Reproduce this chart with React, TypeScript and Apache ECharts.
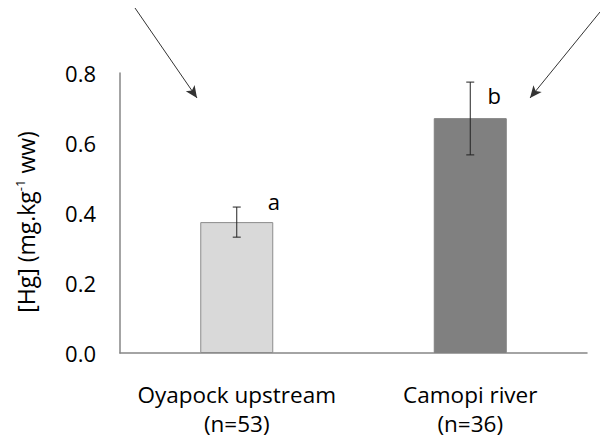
import React, { useEffect, useRef } from "react";
import * as echarts from "echarts";

const categories = ["Oyapock upstream\n(n=53)", "Camopi river\n(n=36)"];
const means = [0.374, 0.671];
const errLow = [0.331, 0.566];
const errHigh = [0.417, 0.774];
const letters = ["a", "b"];
const barColors = ["#d9d9d9", "#808080"];
const yTicks = { min: 0, max: 0.8, interval: 0.2 };

const FONT = "Open Sans";

export default function App() {
  const ref = useRef<HTMLDivElement>(null);
  useEffect(() => {
    if (!ref.current) return;
    const chart = echarts.init(ref.current, null, { renderer: "svg" });
    const option: any = {
      animation: false,
      backgroundColor: "#ffffff",
      grid: { left: 120, right: 13, top: 73, bottom: 92 },
      xAxis: {
        type: "category",
        data: categories,
        axisTick: { show: false },
        axisLine: { lineStyle: { color: "#868686", width: 1.5 } },
        axisLabel: {
          interval: 0,
          margin: 27,
          fontFamily: FONT,
          fontSize: 22.5,
          lineHeight: 29,
          color: "#000",
        },
      },
      yAxis: {
        type: "value",
        min: yTicks.min,
        max: yTicks.max,
        interval: yTicks.interval,
        splitLine: { show: false },
        axisTick: { show: false },
        axisLine: { show: true, lineStyle: { color: "#868686", width: 1.5 } },
        axisLabel: {
          margin: 24,
          fontFamily: FONT,
          fontSize: 22,
          color: "#000",
          formatter: (v: number) => v.toFixed(1),
        },
        name: "{a|[Hg] (mg.kg}{s|-1}{a| ww)}",
        nameLocation: "middle",
        nameRotate: 90,
        nameGap: 82,
        nameTextStyle: {
          padding: [0, 18, 0, 0],
          rich: {
            a: { fontFamily: FONT, fontSize: 23, color: "#000" },
            s: { fontFamily: FONT, fontSize: 13, color: "#000", verticalAlign: "top", padding: [0, 0, 12, 0] },
          },
        },
      },
      series: [
        {
          type: "bar",
          barWidth: 73,
          data: means.map((v, i) => ({
            value: v,
            itemStyle: { color: barColors[i], borderColor: i === 0 ? "#8c8c8c" : barColors[i], borderWidth: 1 },
            label: {
              show: true,
              position: "top",
              distance: i === 0 ? 10 : 12,
              offset: [i === 0 ? 37 : 24, 0],
              formatter: letters[i],
              fontFamily: FONT,
              fontSize: 22,
              color: "#000",
            },
          })),
          markLine: {
            silent: true,
            symbol: ["none", "arrow"],
            symbolSize: [8, 12],
            label: { show: false },
            lineStyle: { color: "#333", width: 1, type: "solid" },
            data: [
              [{ x: 135, y: 8 }, { x: 197, y: 98 }],
              [{ x: 600, y: 12 }, { x: 530, y: 98 }],
            ],
          },
        },
        {
          type: "custom",
          data: means.map((_, i) => [i, errLow[i], errHigh[i]]),
          encode: { x: 0, y: [1, 2] },
          z: 10,
          renderItem: (params: any, api: any) => {
            const x = api.value(0);
            const lo = api.coord([x, api.value(1)]);
            const hi = api.coord([x, api.value(2)]);
            const cap = 4;
            const style = { stroke: "#222", lineWidth: 1 };
            return {
              type: "group",
              children: [
                { type: "line", shape: { x1: lo[0], y1: lo[1], x2: hi[0], y2: hi[1] }, style },
                { type: "line", shape: { x1: lo[0] - cap, y1: lo[1], x2: lo[0] + cap, y2: lo[1] }, style },
                { type: "line", shape: { x1: hi[0] - cap, y1: hi[1], x2: hi[0] + cap, y2: hi[1] }, style },
              ],
            };
          },
        },
      ],
    };
    chart.setOption(option);
    return () => chart.dispose();
  }, []);
  return <div ref={ref} style={{ width: 600, height: 445, position: "fixed", left: 0, top: 0 }} />;
}
